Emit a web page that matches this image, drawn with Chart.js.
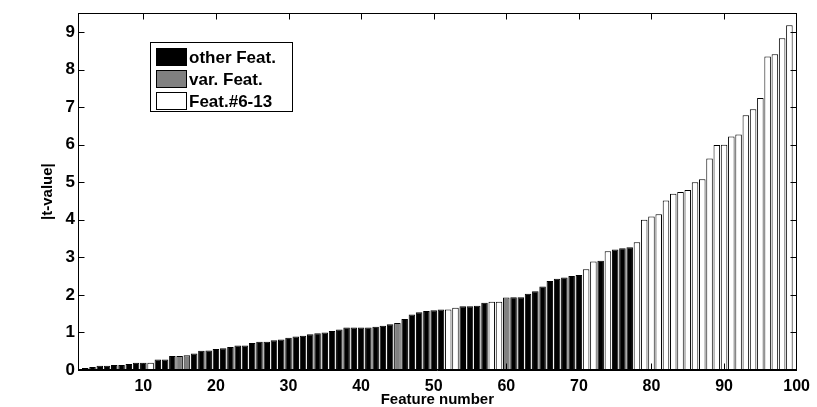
<!DOCTYPE html>
<html>
<head>
<meta charset="utf-8">
<script src="https://cdn.jsdelivr.net/npm/chart.js@4.4.1/dist/chart.umd.min.js"></script>
<style>
  html, body { margin: 0; padding: 0; background: #fff; }
  #wrap { width: 817px; height: 407px; }
</style>
</head>
<body>
<div id="wrap"><canvas id="tchart" width="817" height="407"></canvas></div>
<script>
// bars are sorted by |t|, first visible bar sits at feature number 2
const firstFeature = 2;

const tValues = [
  0.05, 0.08, 0.11, 0.11, 0.13, 0.13, 0.16, 0.19, 0.19, 0.19,
  0.28, 0.28, 0.37, 0.37, 0.39, 0.44, 0.51, 0.52, 0.56, 0.58,
  0.61, 0.65, 0.65, 0.72, 0.75, 0.75, 0.79, 0.81, 0.86, 0.89,
  0.91, 0.95, 0.98, 1.00, 1.04, 1.08, 1.13, 1.13, 1.13, 1.13,
  1.15, 1.18, 1.22, 1.25, 1.36, 1.48, 1.54, 1.57, 1.59, 1.61,
  1.61, 1.66, 1.70, 1.70, 1.71, 1.79, 1.82, 1.82, 1.93, 1.94,
  1.94, 2.03, 2.10, 2.22, 2.37, 2.43, 2.46, 2.50, 2.53, 2.68,
  2.89, 2.91, 3.16, 3.21, 3.24, 3.27, 3.40, 4.00, 4.09, 4.15,
  4.51, 4.69, 4.74, 4.79, 5.00, 5.08, 5.63, 5.99, 6.00, 6.22,
  6.27, 6.78, 6.94, 7.24, 8.35, 8.41, 8.83, 9.18
];

// o = other Feat., v = var. Feat., f = Feat.#6-13 (one letter per bar)
const groups = [
  "voooooooof",
  "ooovvooooo",
  "oooooooooo",
  "oooooooooo",
  "ooovoooooo",
  "ffooooffvo",
  "ooooooooof",
  "fofoooffff",
  "ffffffffff",
  "ffffffff"
].join("");

const seriesKeys = ["o", "v", "f"];
const seriesNames = ["other Feat.", "var. Feat.", "Feat.#6-13"];
const seriesColors = ["#000000", "#808080", "#ffffff"];

const xTicks = [10, 20, 30, 40, 50, 60, 70, 80, 90, 100];
const yTicks = [0, 1, 2, 3, 4, 5, 6, 7, 8, 9];

const FONT = "'Liberation Sans', Arial, sans-serif";

const datasets = seriesKeys.map((key, k) => ({
  label: seriesNames[k],
  data: tValues
    .map((v, i) => ({ x: firstFeature + i, y: v, g: groups[i] }))
    .filter(p => p.g === key),
  backgroundColor: seriesColors[k],
  borderColor: "#000000",
  borderWidth: 1,
  borderSkipped: false,
  grouped: false,
  categoryPercentage: 1,
  barPercentage: 0.9
}));

// box round the plot, inward ticks on all sides, legend in upper left
const boxAndLegend = {
  id: "boxAndLegend",
  afterDraw(chart) {
    const { ctx, chartArea: a, scales: { x, y } } = chart;
    const L = Math.round(a.left) + 0.5, R = Math.round(a.right) - 0.5;
    const T = Math.round(a.top) + 0.5, B = Math.round(a.bottom) - 0.5;
    ctx.save();
    ctx.strokeStyle = "#000";
    ctx.lineWidth = 1;
    ctx.strokeRect(L, T, R - L, B - T);
    ctx.beginPath();
    xTicks.forEach(v => {
      const px = Math.round(x.getPixelForValue(v)) + 0.5;
      if (px > R) return;
      ctx.moveTo(px, B); ctx.lineTo(px, B - 6);
      ctx.moveTo(px, T); ctx.lineTo(px, T + 6);
    });
    yTicks.forEach(v => {
      const py = Math.round(y.getPixelForValue(v)) + 0.5;
      ctx.moveTo(L, py); ctx.lineTo(L + 6, py);
      ctx.moveTo(R, py); ctx.lineTo(R - 6, py);
    });
    ctx.stroke();

    // legend
    const bx = 150.5, by = 42.5, bw = 142, bh = 69;
    ctx.fillStyle = "#fff";
    ctx.fillRect(bx, by, bw, bh);
    ctx.strokeRect(bx, by, bw, bh);
    ctx.font = "bold 17px " + FONT;
    ctx.textBaseline = "middle";
    chart.data.datasets.forEach((ds, i) => {
      const cy = 57 + i * 22;
      ctx.fillStyle = ds.backgroundColor;
      ctx.fillRect(156.5, cy - 8.5, 30, 17);
      ctx.strokeRect(156.5, cy - 8.5, 30, 17);
      ctx.fillStyle = "#000";
      ctx.fillText(ds.label, 189, cy + 1);
    });
    ctx.restore();
  }
};

new Chart(document.getElementById("tchart"), {
  type: "bar",
  data: { datasets },
  options: {
    responsive: false,
    animation: false,
    devicePixelRatio: 1,
    layout: { padding: { top: 13, right: 5, bottom: 0, left: 0 } },
    plugins: { legend: { display: false }, tooltip: { enabled: false } },
    scales: {
      x: {
        type: "linear",
        offset: false,
        min: 1,
        max: 100,
        afterBuildTicks: s => { s.ticks = xTicks.map(v => ({ value: v })); },
        afterFit: s => { s.height = 37; },
        grid: { display: false, offset: false, drawTicks: false },
        border: { display: true, color: "#000", width: 1 },
        ticks: {
          color: "#000",
          padding: 7,
          maxRotation: 0,
          font: { family: FONT, size: 16, weight: "bold" }
        },
        title: {
          display: true,
          text: "Feature number",
          color: "#000",
          padding: { top: 0, bottom: 0 },
          font: { family: FONT, size: 15, weight: "bold", lineHeight: 1 }
        }
      },
      y: {
        min: 0,
        max: 9.5,
        afterBuildTicks: s => { s.ticks = yTicks.map(v => ({ value: v })); },
        afterFit: s => { s.width = 78; },
        grid: { display: false, drawTicks: false },
        border: { display: true, color: "#000", width: 1 },
        ticks: {
          color: "#000",
          padding: 3,
          font: { family: FONT, size: 17, weight: "bold" }
        },
        title: {
          display: true,
          text: "|t-value|",
          color: "#000",
          padding: { top: 39, bottom: 0 },
          font: { family: FONT, size: 15, weight: "bold", lineHeight: 1.2 }
        }
      }
    }
  },
  plugins: [boxAndLegend]
});
</script>
</body>
</html>
